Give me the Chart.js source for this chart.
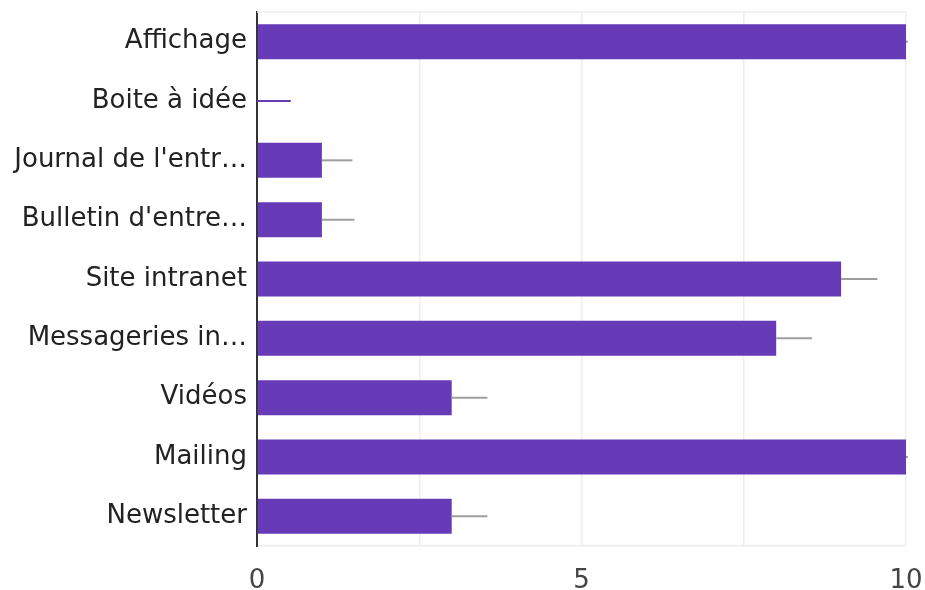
<!DOCTYPE html>
<html>
<head>
<meta charset="utf-8">
<script src="https://cdn.jsdelivr.net/npm/chart.js@4"></script>
<style>
  html, body { margin: 0; padding: 0; background: #fff; }
  #wrap { width: 925px; height: 590px; }
</style>
</head>
<body>
<div id="wrap"><canvas id="chartCanaux"></canvas></div>
<script>
const categories = [
    'Affichage',
    'Boite à idée',
    "Journal de l'entr…",
    "Bulletin d'entre…",
    'Site intranet',
    'Messageries in…',
    'Vidéos',
    'Mailing',
    'Newsletter',
];
const values = [10, 0, 1, 1, 9, 8, 3, 10, 3];
// length of the grey line drawn after each bar
const errors = [0.03, 0.52, 0.47, 0.5, 0.56, 0.55, 0.55, 0.03, 0.55];
const xTicks = [0, 5, 10];

const purple = '#673ab7';

// grey whisker after each bar (purple when the bar is empty)
const errorLines = {
    id: 'errorLines',
    afterDatasetsDraw(chart) {
        const { ctx, scales } = chart;
        const meta = chart.getDatasetMeta(0);
        ctx.save();
        ctx.lineWidth = 2;
        meta.data.forEach((bar, i) => {
            if (!errors[i]) return;
            const x0 = scales.x.getPixelForValue(values[i]);
            const x1 = scales.x.getPixelForValue(values[i] + errors[i]);
            ctx.strokeStyle = values[i] === 0 ? purple : '#9e9e9e';
            ctx.beginPath();
            ctx.moveTo(x0, bar.y);
            ctx.lineTo(x1, bar.y);
            ctx.stroke();
        });
        ctx.restore();
    },
    beforeDatasetsDraw(chart) {
        const { ctx, chartArea: a } = chart;
        ctx.save();
        ctx.strokeStyle = '#eeeeee';
        ctx.lineWidth = 1.5;
        ctx.beginPath();
        ctx.moveTo(a.left, a.top);
        ctx.lineTo(a.right, a.top);
        ctx.stroke();
        ctx.restore();
    },
};

new Chart(document.getElementById('chartCanaux').getContext('2d'), {
    type: 'bar',
    data: {
        labels: categories,
        datasets: [{
            data: values,
            backgroundColor: purple,
            borderWidth: 0,
            barPercentage: 0.59,
            categoryPercentage: 1,
        }],
    },
    plugins: [errorLines],
    options: {
        indexAxis: 'y',
        responsive: true,
        maintainAspectRatio: false,
        animation: false,
        layout: { padding: { top: 12, right: 19, left: 0, bottom: 0 } },
        plugins: {
            legend: { display: false },
            tooltip: { enabled: false },
        },
        scales: {
            x: {
                min: 0,
                max: 10,
                afterFit: (s) => {
                    s.height = 44;
                    s.paddingLeft = 0;
                    s.paddingRight = 0;
                },
                afterBuildTicks: (s) => {
                    s.ticks = [0, 2.5, 5, 7.5, 10].map((v) => ({ value: v }));
                },
                ticks: {
                    padding: 20,
                    color: '#444',
                    font: { family: 'DejaVu Sans', size: 26 },
                    maxRotation: 0,
                    callback: (v) => (xTicks.includes(v) ? String(v) : ''),
                },
                grid: { color: '#eeeeee', lineWidth: 1.5, drawTicks: false },
                border: { color: '#eeeeee', width: 1.5 },
            },
            y: {
                afterFit: (s) => {
                    s.width = 257;
                    s.paddingTop = 0;
                    s.paddingBottom = 0;
                },
                ticks: {
                    padding: 2,
                    color: '#222',
                    font: { family: 'DejaVu Sans', size: 26 },
                },
                grid: { display: false },
                border: { color: '#333', width: 2 },
            },
        },
    },
});
</script>
</body>
</html>
